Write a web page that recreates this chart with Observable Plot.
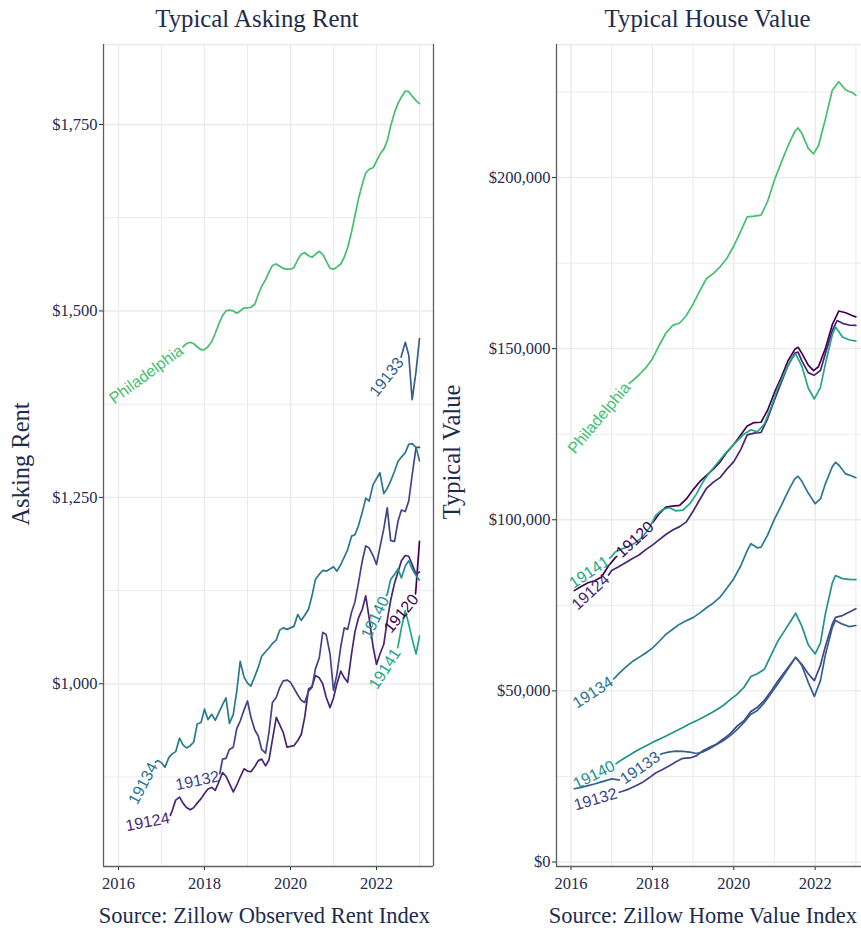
<!DOCTYPE html>
<html><head><meta charset="utf-8">
<script src="https://cdn.jsdelivr.net/npm/d3@7"></script>
<script src="https://cdn.jsdelivr.net/npm/@observablehq/plot@0.6"></script>
<style>
html,body{margin:0;padding:0;background:#fff;overflow:hidden;}
#wrap{position:relative;width:861px;height:930px;overflow:hidden;background:#fff;}
#wrap > svg{position:absolute;}
</style></head><body><div id="wrap"></div>
<script>
// ---------- categories, colours, ticks ----------
const zips = ["19120","19124","19132","19133","19134","19140","19141","Philadelphia"];
const zipColors = ["#440154","#482475","#414487","#355f8d","#2a788e","#21918c","#22a884","#44bf70"];
const yearTicks = [2016,2018,2020,2022];
const yearMinor = [2017,2019,2021,2023];
const rentTicks = [1000,1250,1500,1750];
const rentMinor = [875,1125,1375,1625];
const valueTicks = [0,50000,100000,150000,200000];
const valueMinor = [25000,75000,125000,175000,225000];
const titles = ["Typical Asking Rent","Typical House Value"];
const axisTitles = ["Asking Rent","Typical Value"];
const captions = ["Source: Zillow Observed Rent Index","Source: Zillow Home Value Index"];

// ---------- Typical asking rent (decimal year, $) ----------
const rent19120 = [[2022.25,1071],[2022.33,1088],[2022.42,1103],[2022.5,1116],[2022.58,1126],[2022.67,1124],[2022.75,1095],[2022.83,1067],[2022.92,1129],[2023.0,1191]];
const rent19124 = [[2016.17,809],[2016.25,810],[2016.33,811],[2016.42,812],[2016.5,813],[2016.58,814],[2016.67,815],[2016.75,817],[2016.83,818],[2016.92,820],[2017.0,821],[2017.08,820],[2017.17,818],[2017.25,830],[2017.33,844],[2017.42,848],[2017.5,840],[2017.58,834],[2017.67,831],[2017.75,834],[2017.83,840],[2017.92,846],[2018.0,853],[2018.08,859],[2018.17,861],[2018.25,857],[2018.33,868],[2018.42,881],[2018.5,876],[2018.58,866],[2018.67,855],[2018.75,864],[2018.83,875],[2018.92,886],[2019.0,883],[2019.08,882],[2019.17,889],[2019.25,897],[2019.33,899],[2019.42,890],[2019.5,898],[2019.58,925],[2019.67,955],[2019.75,945],[2019.83,935],[2019.92,915],[2020.0,916],[2020.08,917],[2020.17,924],[2020.25,932],[2020.33,955],[2020.42,993],[2020.5,996],[2020.58,1011],[2020.67,1008],[2020.75,1000],[2020.83,982],[2020.92,968],[2021.0,981],[2021.08,1000],[2021.17,1017],[2021.25,1008],[2021.33,1002],[2021.42,1040],[2021.5,1070],[2021.58,1088],[2021.67,1100],[2021.75,1118],[2021.83,1088],[2021.92,1050],[2022.0,1026],[2022.08,1040],[2022.17,1053],[2022.25,1085],[2022.33,1112],[2022.42,1135],[2022.5,1150],[2022.58,1165],[2022.67,1172],[2022.75,1171],[2022.83,1160],[2022.92,1147],[2023.0,1150]];
const rent19132 = [[2017.33,864],[2017.42,863],[2017.5,862],[2017.58,860],[2017.67,858],[2017.75,856],[2017.83,853],[2017.92,850],[2018.0,848],[2018.08,846],[2018.17,845],[2018.25,852],[2018.33,872],[2018.42,899],[2018.5,900],[2018.58,912],[2018.67,915],[2018.75,940],[2018.83,950],[2018.92,965],[2019.0,977],[2019.08,955],[2019.17,938],[2019.25,930],[2019.33,912],[2019.42,907],[2019.5,935],[2019.58,975],[2019.67,982],[2019.75,995],[2019.83,1004],[2019.92,1005],[2020.0,1002],[2020.08,994],[2020.17,985],[2020.25,978],[2020.33,975],[2020.42,990],[2020.5,995],[2020.58,1020],[2020.67,1035],[2020.75,1069],[2020.83,1066],[2020.92,1040],[2021.0,991],[2021.08,1013],[2021.17,1050],[2021.25,1075],[2021.33,1073],[2021.42,1096],[2021.5,1110],[2021.58,1135],[2021.67,1165],[2021.75,1185],[2021.83,1182],[2021.92,1172],[2022.0,1160],[2022.08,1183],[2022.17,1208],[2022.25,1236],[2022.33,1192],[2022.42,1191],[2022.5,1218],[2022.58,1233],[2022.67,1231],[2022.75,1245],[2022.83,1280],[2022.92,1317],[2023.0,1317]];
const rent19133 = [[2021.92,1388],[2022.0,1394],[2022.08,1400],[2022.17,1406],[2022.25,1412],[2022.33,1418],[2022.42,1424],[2022.5,1418],[2022.58,1440],[2022.67,1458],[2022.75,1441],[2022.83,1381],[2022.92,1419],[2023.0,1463]];
const rent19134 = [[2016.33,840],[2016.42,850],[2016.5,859],[2016.58,868],[2016.67,877],[2016.75,886],[2016.83,894],[2016.92,897],[2017.0,894],[2017.08,888],[2017.17,901],[2017.25,906],[2017.33,909],[2017.42,927],[2017.5,918],[2017.58,914],[2017.67,917],[2017.75,922],[2017.83,946],[2017.92,948],[2018.0,966],[2018.08,952],[2018.17,959],[2018.25,951],[2018.33,961],[2018.42,972],[2018.5,981],[2018.58,947],[2018.67,959],[2018.75,990],[2018.83,1030],[2018.92,1009],[2019.0,1001],[2019.08,997],[2019.17,1010],[2019.25,1022],[2019.33,1037],[2019.42,1043],[2019.5,1048],[2019.58,1054],[2019.67,1059],[2019.75,1072],[2019.83,1075],[2019.92,1073],[2020.0,1075],[2020.08,1077],[2020.17,1093],[2020.25,1085],[2020.33,1092],[2020.42,1100],[2020.5,1118],[2020.58,1140],[2020.67,1147],[2020.75,1152],[2020.83,1151],[2020.92,1154],[2021.0,1157],[2021.08,1151],[2021.17,1160],[2021.25,1170],[2021.33,1180],[2021.42,1198],[2021.5,1200],[2021.58,1212],[2021.67,1230],[2021.75,1249],[2021.83,1245],[2021.92,1267],[2022.0,1275],[2022.08,1283],[2022.17,1255],[2022.25,1262],[2022.33,1272],[2022.42,1285],[2022.5,1298],[2022.58,1304],[2022.67,1310],[2022.75,1321],[2022.83,1322],[2022.92,1317],[2023.0,1299]];
const rent19140 = [[2021.75,1062],[2021.83,1075],[2021.92,1088],[2022.0,1098],[2022.08,1106],[2022.17,1114],[2022.25,1120],[2022.33,1140],[2022.42,1147],[2022.5,1154],[2022.58,1142],[2022.67,1158],[2022.75,1165],[2022.83,1154],[2022.92,1145],[2023.0,1139]];
const rent19141 = [[2021.92,995],[2022.0,1001],[2022.08,1007],[2022.17,1013],[2022.25,1020],[2022.33,1027],[2022.42,1035],[2022.5,1050],[2022.58,1075],[2022.67,1098],[2022.75,1080],[2022.83,1060],[2022.92,1040],[2023.0,1064]];
const rentPhiladelphia = [[2015.83,1380],[2016.0,1388],[2016.17,1395],[2016.33,1402],[2016.5,1409],[2016.67,1416],[2016.83,1423],[2017.0,1430],[2017.17,1436],[2017.33,1442],[2017.42,1446],[2017.5,1452],[2017.58,1456],[2017.67,1458],[2017.75,1456],[2017.83,1452],[2017.92,1448],[2018.0,1448],[2018.08,1452],[2018.17,1459],[2018.25,1470],[2018.33,1482],[2018.42,1494],[2018.5,1500],[2018.58,1501],[2018.67,1500],[2018.75,1497],[2018.83,1500],[2018.92,1504],[2019.0,1504],[2019.08,1505],[2019.17,1509],[2019.25,1522],[2019.33,1533],[2019.42,1542],[2019.5,1552],[2019.58,1561],[2019.67,1563],[2019.75,1560],[2019.83,1557],[2019.92,1556],[2020.0,1556],[2020.08,1558],[2020.17,1569],[2020.25,1576],[2020.33,1578],[2020.42,1574],[2020.5,1572],[2020.58,1576],[2020.67,1580],[2020.75,1576],[2020.83,1567],[2020.92,1557],[2021.0,1556],[2021.08,1559],[2021.17,1563],[2021.25,1572],[2021.33,1585],[2021.42,1606],[2021.5,1628],[2021.58,1650],[2021.67,1670],[2021.75,1685],[2021.83,1690],[2021.92,1692],[2022.0,1701],[2022.08,1710],[2022.17,1717],[2022.25,1728],[2022.33,1748],[2022.42,1766],[2022.5,1778],[2022.58,1787],[2022.67,1795],[2022.75,1794],[2022.83,1788],[2022.92,1782],[2023.0,1778]];

// ---------- Typical house value (decimal year, $) ----------
const value19120 = [[2016.08,79300],[2016.25,80500],[2016.42,81600],[2016.58,82200],[2016.75,83300],[2016.92,86500],[2017.08,88800],[2017.17,89800],[2017.33,91000],[2017.5,92500],[2017.67,94200],[2017.83,96300],[2018.0,99000],[2018.17,101800],[2018.33,103700],[2018.5,104000],[2018.67,104200],[2018.83,106000],[2019.0,108800],[2019.17,111200],[2019.33,113000],[2019.5,114800],[2019.67,117000],[2019.83,119700],[2020.0,122000],[2020.17,124800],[2020.33,127400],[2020.5,128400],[2020.67,128500],[2020.83,132000],[2021.0,137200],[2021.17,141700],[2021.33,146400],[2021.5,149800],[2021.58,150400],[2021.67,148700],[2021.83,145200],[2021.96,143600],[2022.08,144700],[2022.25,150000],[2022.42,157000],[2022.58,161000],[2022.75,160500],[2022.92,159600],[2023.0,159300]];
const value19124 = [[2016.08,74500],[2016.25,76000],[2016.42,77800],[2016.58,79500],[2016.75,81500],[2016.92,83800],[2017.0,85200],[2017.17,86300],[2017.33,87400],[2017.5,88600],[2017.67,89700],[2017.83,91200],[2018.0,92600],[2018.17,94200],[2018.33,95700],[2018.5,97000],[2018.67,98000],[2018.83,99300],[2019.0,102500],[2019.17,106000],[2019.33,109200],[2019.5,111000],[2019.67,112400],[2019.83,114800],[2020.0,117000],[2020.17,120500],[2020.33,124800],[2020.5,125300],[2020.67,125500],[2020.83,129500],[2021.0,135000],[2021.17,140200],[2021.33,145000],[2021.5,148700],[2021.58,149000],[2021.67,146500],[2021.83,143000],[2021.97,142200],[2022.13,143600],[2022.25,148500],[2022.42,155300],[2022.54,158200],[2022.67,157400],[2022.83,156900],[2023.0,156800]];
const value19132 = [[2016.08,16500],[2016.25,17000],[2016.42,17500],[2016.58,18000],[2016.75,18600],[2016.92,19300],[2017.08,20000],[2017.25,20600],[2017.42,21300],[2017.58,22200],[2017.75,23200],[2017.92,24600],[2018.08,26000],[2018.25,27000],[2018.42,28100],[2018.58,29300],[2018.75,30300],[2018.92,30400],[2019.08,31000],[2019.25,32600],[2019.42,33600],[2019.58,34500],[2019.75,36000],[2019.92,37600],[2020.08,39700],[2020.25,41300],[2020.42,44000],[2020.58,45200],[2020.75,47200],[2020.92,50000],[2021.08,52800],[2021.25,55500],[2021.42,58200],[2021.52,59800],[2021.67,57800],[2021.83,55000],[2021.98,53000],[2022.13,57500],[2022.25,63000],[2022.42,69500],[2022.5,71500],[2022.67,72000],[2022.83,73000],[2023.0,74000]];
const value19133 = [[2016.08,21400],[2016.25,21800],[2016.42,22300],[2016.58,22800],[2016.75,23400],[2016.92,24000],[2017.0,24300],[2017.17,24000],[2017.25,23800],[2017.42,25000],[2017.58,26500],[2017.75,28000],[2017.92,29500],[2018.08,30800],[2018.25,31700],[2018.42,32200],[2018.58,32400],[2018.75,32300],[2018.92,32100],[2019.08,31700],[2019.25,32200],[2019.42,33200],[2019.58,34300],[2019.75,35500],[2019.92,37000],[2020.08,38700],[2020.25,40800],[2020.42,43200],[2020.58,44300],[2020.75,46500],[2020.92,49300],[2021.08,52000],[2021.25,55000],[2021.42,58000],[2021.52,59800],[2021.67,57500],[2021.83,52500],[2021.98,48400],[2022.13,53000],[2022.25,60500],[2022.42,68500],[2022.5,70600],[2022.67,69500],[2022.83,68800],[2023.0,69100]];
const value19134 = [[2016.08,46000],[2016.25,47300],[2016.42,48600],[2016.58,49800],[2016.75,51000],[2016.92,52300],[2017.08,53800],[2017.17,55000],[2017.33,56800],[2017.5,58500],[2017.67,59800],[2017.83,61000],[2018.0,62500],[2018.17,64500],[2018.33,66500],[2018.5,68000],[2018.67,69500],[2018.83,70500],[2019.0,71400],[2019.17,72800],[2019.33,74300],[2019.5,75700],[2019.67,77500],[2019.83,80000],[2020.0,82800],[2020.17,86500],[2020.33,91000],[2020.42,93000],[2020.58,91800],[2020.67,92000],[2020.83,95500],[2021.0,100200],[2021.17,104200],[2021.33,108200],[2021.5,112000],[2021.58,112700],[2021.67,111300],[2021.83,107800],[2022.0,104700],[2022.13,106100],[2022.25,110500],[2022.42,115500],[2022.5,116800],[2022.58,116000],[2022.75,113400],[2022.92,112700],[2023.0,112300]];
const value19140 = [[2016.08,22500],[2016.25,23300],[2016.42,24200],[2016.58,25100],[2016.75,26100],[2016.92,27300],[2017.08,28500],[2017.25,29900],[2017.42,31100],[2017.58,32300],[2017.75,33400],[2017.92,34400],[2018.08,35400],[2018.25,36300],[2018.42,37300],[2018.58,38300],[2018.75,39300],[2018.92,40400],[2019.08,41300],[2019.25,42300],[2019.42,43400],[2019.58,44500],[2019.75,45800],[2019.92,47500],[2020.08,49000],[2020.25,51000],[2020.42,54200],[2020.58,55000],[2020.75,56300],[2020.92,60500],[2021.08,64500],[2021.25,67600],[2021.42,70800],[2021.52,72700],[2021.67,69000],[2021.83,63500],[2022.0,60800],[2022.13,64000],[2022.25,72500],[2022.42,81500],[2022.5,83700],[2022.67,82800],[2022.83,82600],[2023.0,82500]];
const value19141 = [[2016.0,81000],[2016.17,82000],[2016.33,83200],[2016.5,84500],[2016.67,86000],[2016.83,87500],[2017.0,89300],[2017.08,90500],[2017.25,91500],[2017.42,92200],[2017.58,93300],[2017.75,94900],[2017.92,97500],[2018.08,101300],[2018.25,103000],[2018.42,103500],[2018.58,102600],[2018.75,102800],[2018.92,104700],[2019.08,107500],[2019.25,111200],[2019.42,114000],[2019.58,116300],[2019.75,118800],[2019.92,121000],[2020.08,123000],[2020.25,125000],[2020.42,126300],[2020.58,125700],[2020.75,128000],[2020.92,133000],[2021.08,138500],[2021.25,143000],[2021.42,147000],[2021.52,148500],[2021.67,145000],[2021.83,138500],[2021.98,135300],[2022.13,138700],[2022.25,145500],[2022.42,154000],[2022.5,156300],[2022.67,153400],[2022.83,152600],[2023.0,152200]];
const valuePhiladelphia = [[2016.0,120000],[2016.17,122500],[2016.33,125000],[2016.5,127500],[2016.67,130000],[2016.83,132500],[2017.0,134800],[2017.17,137000],[2017.33,139000],[2017.5,140500],[2017.67,142300],[2017.83,144300],[2018.0,147000],[2018.17,151000],[2018.33,154500],[2018.5,156800],[2018.67,157500],[2018.83,159600],[2019.0,163000],[2019.17,167000],[2019.33,170500],[2019.5,172000],[2019.67,174000],[2019.83,176400],[2020.0,180000],[2020.17,184300],[2020.33,188500],[2020.5,188700],[2020.67,189000],[2020.83,193000],[2021.0,199300],[2021.17,204500],[2021.33,209200],[2021.5,213500],[2021.58,214500],[2021.67,213000],[2021.83,208500],[2021.96,206900],[2022.08,209300],[2022.25,217000],[2022.42,225500],[2022.58,228000],[2022.75,225600],[2022.92,224800],[2023.0,224000]];

// where a label starts along its line (default: the line's first point)
const valueLabelFrom = {"19120": 2017.17, "19133": 2017.25};

const rentSeries = [["19120",rent19120],["19124",rent19124],["19132",rent19132],["19133",rent19133],["19134",rent19134],["19140",rent19140],["19141",rent19141],["Philadelphia",rentPhiladelphia]];
const valueSeries = [["19120",value19120],["19124",value19124],["19132",value19132],["19133",value19133],["19134",value19134],["19140",value19140],["19141",value19141],["Philadelphia",valuePhiladelphia]];

// ---------- styling ----------
const INK = "#1d2c4d";
const GRID = "#ebebeb";
const AXIS = "#5f5f5f";
const LABEL_FONT = "'Liberation Sans', Arial, sans-serif";
const LABEL_SIZE = 16;
const SERIF = "'Liberation Serif', 'Times New Roman', serif";

const ctx = document.createElement("canvas").getContext("2d");
ctx.font = `${LABEL_SIZE}px ${LABEL_FONT}`;

// place text labels along the lines (geomtextpath style) and cut a gap in each line
function layout(series, labelFrom, kx, ky, pad) {
  const lines = [], labels = [];
  for (const [name, pts] of series) {
    const P = pts.map(([t, v]) => ({t, v, x: t * kx, y: -v * ky}));
    const L = [0];
    for (let i = 1; i < P.length; i++) L[i] = L[i-1] + Math.hypot(P[i].x - P[i-1].x, P[i].y - P[i-1].y);
    const lerp = (a, b, m) => ({t: a.t + (b.t - a.t) * m, v: a.v + (b.v - a.v) * m, x: a.x + (b.x - a.x) * m, y: a.y + (b.y - a.y) * m});
    const at = s => {
      if (s <= 0) return P[0];
      for (let i = 1; i < P.length; i++) if (L[i] >= s) return lerp(P[i-1], P[i], (s - L[i-1]) / (L[i] - L[i-1] || 1));
      return P[P.length - 1];
    };
    const from = labelFrom[name];
    let i0 = from == null ? 0 : P.findIndex(p => p.t >= from - 1e-9);
    if (i0 < 0) i0 = 0;
    const S = P[i0];
    const w = ctx.measureText(name).width;
    let E = P[P.length - 1], sE = L[L.length - 1];
    for (let i = i0 + 1; i < P.length; i++) {
      if (Math.hypot(P[i].x - S.x, P[i].y - S.y) >= w) {
        let a = 0, b = 1;
        for (let k = 0; k < 30; k++) {
          const m = (a + b) / 2, q = lerp(P[i-1], P[i], m);
          if (Math.hypot(q.x - S.x, q.y - S.y) < w) a = m; else b = m;
        }
        E = lerp(P[i-1], P[i], b);
        sE = L[i-1] + b * (L[i] - L[i-1]);
        break;
      }
    }
    labels.push({name, t: (S.t + E.t) / 2, v: (S.v + E.v) / 2, angle: Math.atan2(E.y - S.y, E.x - S.x) * 180 / Math.PI});
    const segs = [[0, L[i0] - pad], [sE + pad, L[L.length - 1]]];
    segs.forEach(([a, b], j) => {
      if (b - a <= 0.5) return;
      const pts2 = [at(a)];
      for (let i = 0; i < P.length; i++) if (L[i] > a && L[i] < b) pts2.push(P[i]);
      pts2.push(at(b));
      for (const p of pts2) lines.push({name, key: name + "-" + j, t: p.t, v: p.v});
    });
  }
  return {lines, labels};
}

function panel(cfg) {
  const {series, labelFrom, xDom, yDom, width, height, mL, mR, mT, mB, yTicks, yMinor, yFmt, rightBorder} = cfg;
  const kx = (width - mL - mR) / (xDom[1] - xDom[0]);
  const ky = (height - mT - mB) / (yDom[1] - yDom[0]);
  const {lines, labels} = layout(series, labelFrom, kx, ky, 2.5);
  const marks = [
    Plot.ruleX(yearMinor, {stroke: GRID, strokeWidth: 1}),
    Plot.ruleY(yMinor, {stroke: GRID, strokeWidth: 1}),
    Plot.ruleX(yearTicks, {stroke: GRID, strokeWidth: 1.4}),
    Plot.ruleY(yTicks, {stroke: GRID, strokeWidth: 1.4}),
    Plot.ruleY([yDom[1]], {stroke: GRID, strokeWidth: 1.4}),
    Plot.line(lines, {x: "t", y: "v", z: "key", stroke: "name", strokeWidth: 1.7, curve: "linear"}),
    Plot.text(labels, {x: "t", y: "v", text: "name", rotate: "angle", fill: "name", fontSize: LABEL_SIZE, fontFamily: LABEL_FONT, textAnchor: "middle", lineAnchor: "middle"}),
    Plot.ruleX([xDom[0]], {stroke: AXIS, strokeWidth: 1.3}),
    Plot.ruleY([yDom[0]], {stroke: AXIS, strokeWidth: 1.3})
  ];
  if (rightBorder) marks.push(Plot.ruleX([xDom[1]], {stroke: AXIS, strokeWidth: 1.3}));
  return Plot.plot({
    width, height, marginLeft: mL, marginRight: mR, marginTop: mT, marginBottom: mB,
    style: {fontFamily: SERIF, fontSize: "16.5px", color: INK, background: "transparent", overflow: "visible"},
    x: {domain: xDom, ticks: yearTicks, tickFormat: d => String(d), tickSize: 4, tickPadding: 7, label: null},
    y: {domain: yDom, ticks: yTicks, tickFormat: yFmt, tickSize: 4, tickPadding: 2, label: null},
    color: {domain: zips, range: zipColors},
    marks
  });
}

const wrap = document.getElementById("wrap");

const left = panel({
  series: rentSeries, labelFrom: {}, xDom: [2015.651, 2023.326], yDom: [755, 1857.3],
  width: 440, height: 900, mL: 103, mR: 7, mT: 44, mB: 34,
  yTicks: rentTicks, yMinor: rentMinor, yFmt: d3.format("$,"), rightBorder: true
});
left.style.left = "0px"; left.style.top = "0px";
wrap.appendChild(left);

const right = panel({
  series: valueSeries, labelFrom: valueLabelFrom, xDom: [2015.644, 2023.335], yDom: [-1315, 238875],
  width: 440, height: 900, mL: 116, mR: 11, mT: 44, mB: 34,
  yTicks: valueTicks, yMinor: valueMinor, yFmt: d3.format("$,"), rightBorder: false
});
right.style.left = "440px"; right.style.top = "0px";
wrap.appendChild(right);

// titles, axis titles and captions
const over = d3.create("svg").attr("width", 861).attr("height", 930)
  .style("left", "0px").style("top", "0px").style("pointer-events", "none")
  .attr("font-family", SERIF).attr("fill", INK);
over.append("text").attr("x", 257).attr("y", 27).attr("text-anchor", "middle").attr("font-size", 24.8).text(titles[0]);
over.append("text").attr("x", 707.5).attr("y", 27).attr("text-anchor", "middle").attr("font-size", 24.8).text(titles[1]);
over.append("text").attr("transform", "translate(29,464) rotate(-90)").attr("text-anchor", "middle").attr("font-size", 24.5).text(axisTitles[0]);
over.append("text").attr("transform", "translate(460,452) rotate(-90)").attr("text-anchor", "middle").attr("font-size", 24.5).text(axisTitles[1]);
over.append("text").attr("x", 430).attr("y", 923).attr("text-anchor", "end").attr("font-size", 22.5).text(captions[0]);
over.append("text").attr("x", 857).attr("y", 923).attr("text-anchor", "end").attr("font-size", 22.5).text(captions[1]);
wrap.appendChild(over.node());
</script>
</body></html>
